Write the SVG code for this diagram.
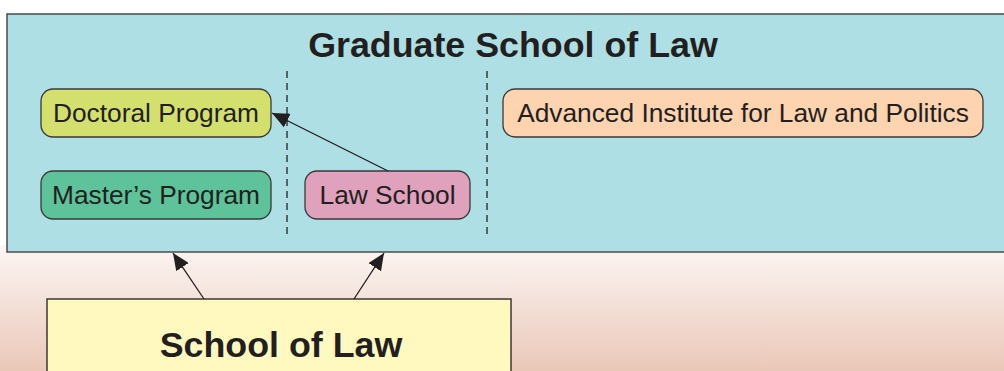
<svg xmlns="http://www.w3.org/2000/svg" width="1004" height="371" viewBox="0 0 1004 371">
<defs>
<linearGradient id="bg" x1="0" y1="0" x2="0" y2="1">
<stop offset="0" stop-color="#fcf6f4"/>
<stop offset="1" stop-color="#eac8b8"/>
</linearGradient>
<marker id="ah" markerUnits="userSpaceOnUse" markerWidth="17" markerHeight="15" viewBox="0 0 17 15" refX="17" refY="7.5" orient="auto">
<path d="M0,0 L17,7.5 L0,15 Z" fill="#231f20"/>
</marker>
<style>
.node{stroke:#3b3838;stroke-width:1.3}
.lbl{font-family:"Liberation Sans",Arial,sans-serif;font-size:26.3px;fill:#231f20;text-anchor:middle}
.big{font-family:"Liberation Sans",Arial,sans-serif;font-size:35.8px;font-weight:bold;fill:#231f20;text-anchor:middle}
.dash{stroke:#3b3838;stroke-width:1.5;stroke-dasharray:7,5;fill:none}
.conn{stroke:#231f20;stroke-width:1.3;fill:none;marker-end:url(#ah)}
</style>
</defs>
<rect x="0" y="0" width="1004" height="371" fill="#ffffff"/>
<rect x="0" y="245" width="1004" height="126" fill="url(#bg)"/>
<g id="graduate-school">
<rect x="7" y="14" width="1010" height="238" fill="#aedfe4" stroke="#4a4a4a" stroke-width="1.5"/>
<text class="big" x="513" y="57">Graduate School of Law</text>
</g>
<g id="dividers">
<line class="dash" x1="287" y1="71" x2="287" y2="234"/>
<line class="dash" x1="487" y1="71" x2="487" y2="234"/>
</g>
<g id="doctoral">
<rect class="node" x="41" y="89" width="230" height="48" rx="12" fill="#d4e06e"/>
<text class="lbl" x="156" y="122">Doctoral Program</text>
</g>
<g id="master">
<rect class="node" x="41" y="171" width="230" height="48" rx="12" fill="#5ec29a"/>
<text class="lbl" x="156" y="204">Master’s Program</text>
</g>
<g id="law-school">
<rect class="node" x="305" y="171" width="165" height="48" rx="12" fill="#e0a1bd"/>
<text class="lbl" x="387.5" y="204">Law School</text>
</g>
<g id="advanced">
<rect class="node" x="503" y="89" width="480" height="48" rx="12" fill="#fdd3b0"/>
<text class="lbl" x="743" y="122">Advanced Institute for Law and Politics</text>
</g>
<g id="school-of-law">
<rect x="47" y="299" width="464" height="90" fill="#fff9c0" stroke="#3b3838" stroke-width="1.5"/>
<text class="big" x="281" y="357">School of Law</text>
</g>
<g id="connectors">
<line class="conn" x1="388" y1="171" x2="272" y2="113"/>
<line class="conn" x1="204" y1="299" x2="173" y2="253"/>
<line class="conn" x1="354" y1="299" x2="384" y2="253"/>
</g>
</svg>
